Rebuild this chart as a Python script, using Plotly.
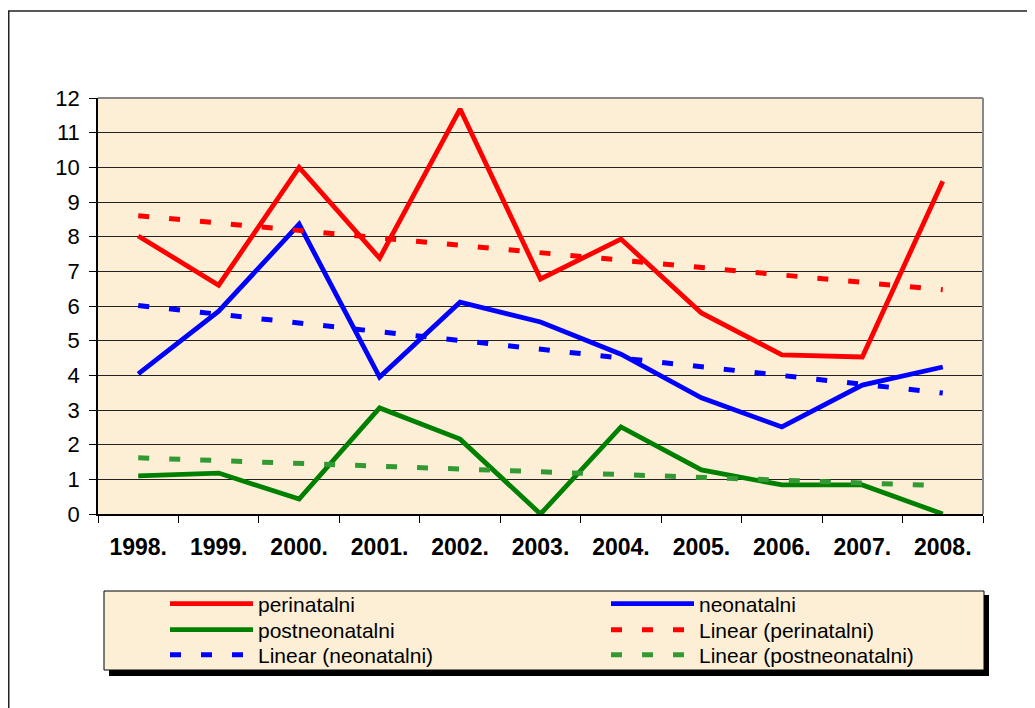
import numpy as np
import plotly.graph_objects as go

years = ["1998.", "1999.", "2000.", "2001.", "2002.", "2003.", "2004.", "2005.", "2006.", "2007.", "2008."]
perinatalni = [8.02, 6.60, 10.00, 7.38, 11.68, 6.78, 7.93, 5.80, 4.59, 4.53, 9.60]
neonatalni = [4.04, 5.85, 8.36, 3.95, 6.11, 5.54, 4.61, 3.35, 2.51, 3.72, 4.24]
postneonatalni = [1.10, 1.18, 0.43, 3.06, 2.16, 0.00, 2.51, 1.27, 0.84, 0.84, 0.00]

OFF = 8  # page body margin
W, H = 1035 - OFF, 708 - OFF
# plot area in page pixels
L, R, T, B = 98, 983, 98, 514
PW, PH = R - L, B - T


def px(x):
    return (x - L) / PW


def py(y):
    return (B - y) / PH


def trend(vals):
    idx = np.arange(len(vals))
    k, c = np.polyfit(idx, vals, 1)
    return list(k * idx + c)


BG = "#FCEFD6"
series = [
    ("perinatalni", perinatalni, "#FF0000"),
    ("neonatalni", neonatalni, "#0000FF"),
    ("postneonatalni", postneonatalni, "#008000"),
]
trend_colors = ["#FF0000", "#0000FF", "#339933"]

# legend slots (row-major, two columns): (symbol-left x, row centre y) in page pixels
slots = [(172, 604), (613, 604), (172, 630), (613, 630), (172, 655), (613, 655)]
legend_names = ["legend", "legend2", "legend3", "legend4", "legend5", "legend6"]

fig = go.Figure()
traces = []
for name, vals, col in series:
    traces.append(go.Scatter(x=years, y=vals, name=name, mode="lines",
                             line=dict(color=col, width=4.8)))
for (name, vals, _), col in zip(series, trend_colors):
    traces.append(go.Scatter(x=years, y=trend(vals), name=f"Linear ({name})", mode="lines",
                             line=dict(color=col, width=5, dash="11px,20px")))
for tr, lg in zip(traces, legend_names):
    tr.legend = lg
    fig.add_trace(tr)

shapes = [
    dict(type="rect", xref="paper", yref="paper", x0=px(8.75), x1=px(1060), y0=py(740), y1=py(11),
         line=dict(color="#222", width=1.5), fillcolor="rgba(0,0,0,0)", layer="below"),
    dict(type="line", xref="paper", yref="paper", x0=0, x1=1, y0=1, y1=1,
         line=dict(color="#888888", width=2), layer="above"),
    dict(type="line", xref="paper", yref="paper", x0=1, x1=1, y0=0, y1=1,
         line=dict(color="#888888", width=2), layer="above"),
    dict(type="rect", xref="paper", yref="paper", x0=px(109), x1=px(989), y0=py(676), y1=py(595),
         line=dict(width=0), fillcolor="black", layer="above"),
    dict(type="rect", xref="paper", yref="paper", x0=px(104), x1=px(984), y0=py(670), y1=py(591),
         line=dict(color="black", width=1), fillcolor=BG, layer="above"),
]

layout = dict(
    width=W, height=H,
    margin=dict(l=L - OFF, r=W - (R - OFF), t=T - OFF, b=H - (B - OFF), pad=0),
    paper_bgcolor="white",
    plot_bgcolor=BG,
    font=dict(family="Arial, Liberation Sans, sans-serif", size=21, color="black"),
    showlegend=True,
    shapes=shapes,
    xaxis=dict(type="category", range=[-0.5, 10.5], tickson="boundaries", ticks="outside",
               ticklen=7, tickcolor="black", tickwidth=1, showline=True, linecolor="black",
               linewidth=1.5, showgrid=False, zeroline=False,
               tickfont=dict(size=23, weight="bold"), ticklabelstandoff=12),
    yaxis=dict(range=[0, 12], dtick=1, ticks="outside", ticklen=7, tickcolor="black",
               showline=True, linecolor="black", linewidth=1.5, showgrid=True,
               gridcolor="#222222", gridwidth=1.3, zeroline=False, tickfont=dict(size=22),
               ticklabelstandoff=5),
)
for (sx, sy), lg in zip(slots, legend_names):
    layout[lg] = dict(x=px(sx - 7), y=py(sy), xanchor="left", yanchor="middle",
                      orientation="v", bgcolor="rgba(0,0,0,0)", borderwidth=0,
                      itemwidth=83, font=dict(size=21))
fig.update_layout(**layout)

fig.write_html("out.html")
